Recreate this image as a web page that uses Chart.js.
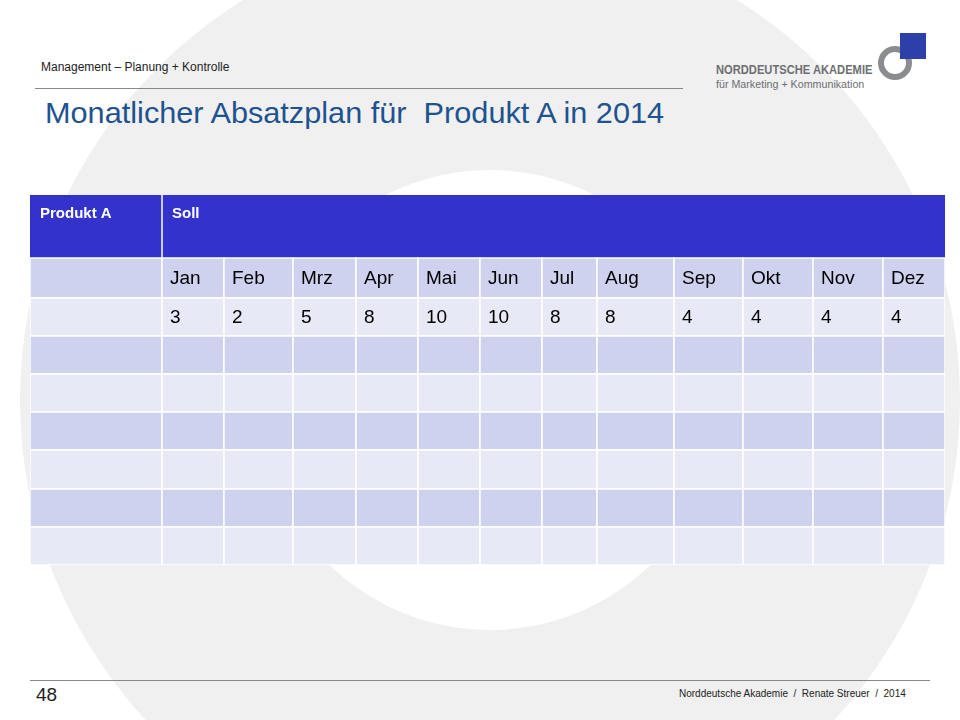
<!DOCTYPE html>
<html><head><meta charset="utf-8">
<script src="https://cdn.jsdelivr.net/npm/chart.js@4"></script>
<style>
body{margin:0;width:960px;height:720px;position:relative;overflow:hidden;background:#fff;font-family:Arial,"Liberation Sans",sans-serif}
.ring{position:absolute;border-radius:50%}
.t{position:absolute;white-space:nowrap}
</style></head><body>
<div class="ring" style="left:20px;top:-70px;width:940px;height:940px;background:#f0f0f0"></div>
<div class="ring" style="left:260px;top:170px;width:460px;height:460px;background:#fff"></div>
<div class="t" style="left:41px;top:60px;font-size:12px;color:#222">Management – Planung + Kontrolle</div>
<div style="position:absolute;left:35px;top:88px;width:648px;height:1px;background:#888"></div>
<div class="t" style="left:45px;top:96px;font-size:29.5px;color:#1f5390;transform:scaleX(1.04);transform-origin:left">Monatlicher Absatzplan für&nbsp; Produkt A in 2014</div>
<div class="t" style="left:716px;top:63px;font-size:12px;font-weight:bold;color:#6d6e71;transform:scaleX(0.93);transform-origin:left">NORDDEUTSCHE AKADEMIE</div>
<div class="t" style="left:716px;top:78px;font-size:11.5px;color:#6d6e71;transform:scaleX(0.93);transform-origin:left">für Marketing + Kommunikation</div>
<div class="ring" style="left:878px;top:46px;width:34px;height:34px;border:6px solid #8a8c8f;box-sizing:border-box"></div>
<div style="position:absolute;left:900px;top:33px;width:26px;height:26px;background:#2d3fa8"></div>
<div style="position:absolute;left:30px;top:680px;width:900px;height:1px;background:#888"></div>
<div class="t" style="left:36px;top:684px;font-size:19px;color:#222">48</div>
<div class="t" style="left:679px;top:688px;font-size:10px;color:#222">Norddeutsche Akademie&nbsp; /&nbsp; Renate Streuer&nbsp; /&nbsp; 2014</div>
<div style="position:absolute;left:30px;top:195px;width:915px;height:370px"><canvas id="c"></canvas></div>
<script>
const headerCells = ["Produkt A","Soll"];
const months = ["Jan","Feb","Mrz","Apr","Mai","Jun","Jul","Aug","Sep","Okt","Nov","Dez"];
const sollValues = [3,2,5,8,10,10,8,8,4,4,4,4];
const emptyRows = 6;
// layout: column widths and row heights (px units of the scales)
const colWidths = [132,62,69,63,62,62,62,55,77,69,70,70,62];
const rowHeights = [63,40,38,38,38,38,39,38,38];
const colEdges=[0];colWidths.forEach(w=>colEdges.push(colEdges.at(-1)+w));
const rowEdges=[0];rowHeights.forEach(h=>rowEdges.push(rowEdges.at(-1)+h));
const rows=[];
rows.push({fill:'#3333cc',cells:null});
rows.push({fill:'#cfd2ee',cells:[""].concat(months)});
rows.push({fill:'#e8e9f6',cells:[""].concat(sollValues.map(String))});
for(let i=0;i<emptyRows;i++) rows.push({fill:i%2==0?'#cfd2ee':'#e8e9f6',cells:new Array(13).fill("")});
const tablePlugin={id:'table',afterDatasetsDraw(ch){
  const c=ch.ctx,x=ch.scales.x,y=ch.scales.y;
  c.save();
  rows.forEach((r,ri)=>{
    const y0=y.getPixelForValue(rowEdges[ri]),y1=y.getPixelForValue(rowEdges[ri+1]);
    if(!r.cells){
      const x0=x.getPixelForValue(0),x1=x.getPixelForValue(colEdges.at(-1));
      c.fillStyle=r.fill;c.fillRect(x0,y0,x1-x0,y1-y0);
      c.strokeStyle='#fff';c.lineWidth=1.5;
      const xs=x.getPixelForValue(colEdges[1]);c.beginPath();c.moveTo(xs,y0);c.lineTo(xs,y1);c.stroke();
      c.fillStyle='#fff';c.font='bold 15px Arial, "Liberation Sans"';c.textBaseline='middle';
      c.fillText(headerCells[0],x0+10,y0+19);c.fillText(headerCells[1],xs+10,y0+19);
      return;
    }
    r.cells.forEach((t,ci)=>{
      const x0=x.getPixelForValue(colEdges[ci]),x1=x.getPixelForValue(colEdges[ci+1]);
      c.fillStyle=r.fill;c.fillRect(x0,y0,x1-x0,y1-y0);
      c.strokeStyle='#fff';c.lineWidth=1.5;c.strokeRect(x0,y0,x1-x0,y1-y0);
      if(t){c.fillStyle='#000';c.font='19px Arial, "Liberation Sans"';c.textBaseline='middle';c.fillText(t,x0+8,(y0+y1)/2+1);}
    });
  });
  c.restore();
}};
new Chart(document.getElementById('c'),{type:'scatter',data:{datasets:[{data:[]}]},
 options:{responsive:true,maintainAspectRatio:false,animation:false,layout:{padding:0},
  plugins:{legend:{display:false},tooltip:{enabled:false}},
  scales:{x:{type:'linear',display:false,min:0,max:colEdges.at(-1)},y:{type:'linear',display:false,reverse:true,min:0,max:rowEdges.at(-1)}}},
 plugins:[tablePlugin]});
</script></body></html>
